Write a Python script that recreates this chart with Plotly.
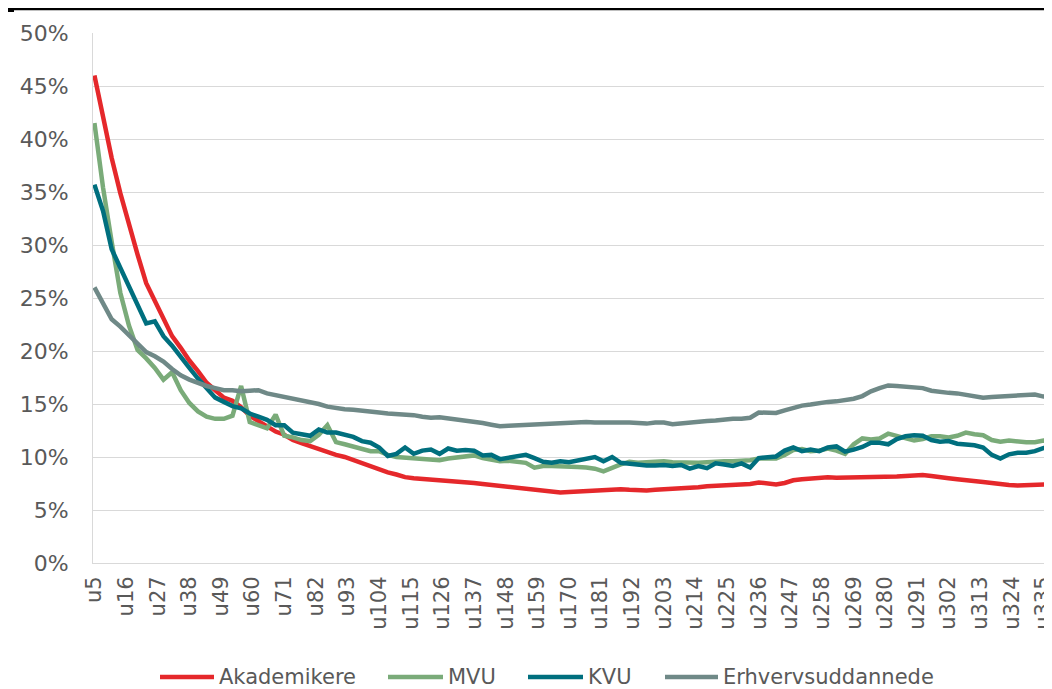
import plotly.graph_objects as go

# Week index of every sampled point (category "u<week>")
weeks = list(range(5, 339, 3))

akademikere = [
    46.0, 42.0, 38.2, 34.9, 31.8, 29.1, 26.4, 24.7, 23.0, 21.4,
    20.3, 19.1, 18.1, 17.0, 16.3, 15.6, 15.3, 14.7, 13.9, 13.4,
    12.8, 12.4, 12.1, 11.6, 11.3, 11.0, 10.8, 10.5, 10.2, 10.0,
    9.7, 9.4, 9.1, 8.8, 8.55, 8.35, 8.1, 8.0, 7.95, 7.9,
    7.85, 7.75, 7.7, 7.65, 7.55, 7.45, 7.35, 7.25, 7.2, 7.05,
    6.95, 6.9, 6.8, 6.75, 6.65, 6.7, 6.75, 6.8, 6.85, 6.9,
    6.95, 6.95, 6.9, 6.85, 6.85, 6.9, 6.95, 6.95, 6.95, 7.0,
    7.15, 7.25, 7.3, 7.35, 7.35, 7.35, 7.45, 7.6, 7.5, 7.4,
    7.55, 7.8, 7.9, 8.0, 8.1, 8.1, 8.05, 8.05, 8.05, 8.1,
    8.1, 8.05, 8.1, 8.15, 8.2, 8.25, 8.3, 8.2, 8.05, 8.0,
    7.9, 7.85, 7.75, 7.65, 7.55, 7.4, 7.35, 7.3, 7.35, 7.45,
    7.5, 7.45,
]

mvu = [
    41.5, 35.4, 30.3, 25.5, 22.4, 20.1, 19.3, 18.4, 17.3, 18.0,
    16.3, 15.1, 14.3, 13.8, 13.6, 13.6, 13.9, 16.7, 13.3, 13.0,
    12.7, 14.0, 12.0, 11.85, 11.6, 11.5, 12.1, 13.0, 11.4, 11.2,
    11.0, 10.8, 10.55, 10.55, 10.2, 10.0, 9.95, 9.9, 9.85, 9.7,
    9.7, 9.85, 9.95, 10.1, 10.15, 9.9, 9.7, 9.6, 9.65, 9.55,
    9.45, 9.0, 9.15, 9.15, 9.15, 9.15, 9.05, 9.0, 8.9, 8.65,
    9.0, 9.3, 9.55, 9.45, 9.5, 9.55, 9.6, 9.5, 9.45, 9.45,
    9.45, 9.5, 9.6, 9.6, 9.6, 9.6, 9.7, 9.85, 9.9, 9.85,
    10.2, 10.65, 10.75, 10.55, 10.6, 10.8, 10.6, 10.3, 11.2, 11.75,
    11.65, 11.75, 12.2, 12.0, 11.7, 11.55, 11.7, 11.95, 11.95, 11.85,
    12.0, 12.3, 12.15, 12.05, 11.6, 11.45, 11.55, 11.45, 11.4, 11.4,
    11.55, 11.45,
]

kvu = [
    35.7, 33.2, 29.6, 27.8, 26.0, 24.2, 22.6, 22.8, 21.4, 20.5,
    19.4, 18.4, 17.4, 16.5, 15.6, 15.2, 14.8, 14.6, 14.1, 13.8,
    13.5, 13.0, 13.0, 12.3, 12.1, 12.0, 12.6, 12.3, 12.3, 12.1,
    11.9, 11.5, 11.35, 10.9, 10.1, 10.3, 10.9, 10.3, 10.6, 10.7,
    10.3, 10.8, 10.6, 10.65, 10.6, 10.15, 10.2, 9.8, 9.95, 10.1,
    10.2, 9.9, 9.55, 9.45, 9.6, 9.5, 9.65, 9.75, 10.0, 9.6,
    10.0, 9.45, 9.35, 9.2, 9.2, 9.2, 9.25, 9.15, 9.25, 8.9,
    9.15, 8.95, 9.4, 9.3, 9.15, 9.4, 9.0, 9.9, 9.95, 10.05,
    10.6, 10.9, 10.55, 10.7, 10.55, 10.9, 11.0, 10.5, 10.7, 10.95,
    11.35, 11.35, 11.2, 11.7, 11.95, 12.05, 12.0, 11.6, 11.45, 11.5,
    11.25, 11.2, 11.1, 10.9, 10.2, 9.85, 10.25, 10.4, 10.4, 10.55,
    10.85, 10.7,
]

erhvervsuddannede = [
    26.0, 24.4, 23.0, 22.3, 21.5, 20.6, 19.9, 19.5, 19.0, 18.3,
    17.7, 17.3, 16.95, 16.7, 16.5, 16.3, 16.3, 16.2, 16.25, 16.3,
    16.0, 15.85, 15.7, 15.45, 15.35, 15.2, 15.0, 14.75, 14.6, 14.5,
    14.45, 14.4, 14.35, 14.2, 14.1, 14.05, 14.05, 13.95, 13.8, 13.7,
    13.75, 13.65, 13.6, 13.45, 13.3, 13.2, 13.05, 12.9, 12.95, 13.0,
    13.05, 13.1, 13.1, 13.1, 13.15, 13.2, 13.3, 13.3, 13.25, 13.25,
    13.3, 13.35, 13.25, 13.2, 13.15, 13.25, 13.25, 13.1, 13.2, 13.25,
    13.3, 13.4, 13.45, 13.55, 13.6, 13.6, 13.7, 14.2, 14.2, 14.15,
    14.4, 14.65, 14.85, 14.95, 15.1, 15.2, 15.25, 15.35, 15.5, 15.75,
    16.2, 16.5, 16.75, 16.7, 16.65, 16.6, 16.5, 16.25, 16.1, 16.05,
    16.0, 15.9, 15.75, 15.6, 15.65, 15.7, 15.75, 15.85, 15.9, 15.9,
    15.7, 15.8,
]

tick_weeks = [5, 16, 27, 38, 49, 60, 71, 82, 93, 104, 115, 126, 137, 148, 159,
              170, 181, 192, 203, 214, 225, 236, 247, 258, 269, 280, 291, 302,
              313, 324, 335]
tick_labels = ["u5", "u16", "u27", "u38", "u49", "u60", "u71", "u82", "u93",
               "u104", "u115", "u126", "u137", "u148", "u159", "u170", "u181",
               "u192", "u203", "u214", "u225", "u236", "u247", "u258", "u269",
               "u280", "u291", "u302", "u313", "u324", "u335"]

series_names = ["Akademikere", "MVU", "KVU", "Erhvervsuddannede"]
series_values = [akademikere, mvu, kvu, erhvervsuddannede]
series_colors = ["#e5282b", "#7aab79", "#006f7e", "#6f8987"]

FONT = "DejaVu Sans"
TXT = "#595959"

# The page body keeps its default 8px margin, so the figure is 8px smaller
OFF = 8
W, H = 1052 - OFF, 689 - OFF
ML, MT = 93 - OFF, 33 - OFF
MR = 0
PW, PH = W - ML - MR, 530
MB = H - MT - PH


def px(xpage):
    return (xpage - OFF - ML) / PW


def py(ypage):
    return (H - MB - (ypage - OFF)) / PH


fig = go.Figure()
for name, vals, col in zip(series_names, series_values, series_colors):
    fig.add_trace(go.Scatter(
        x=weeks, y=vals, name=name, mode="lines",
        line=dict(color=col, width=4.5),
        hoverinfo="skip", showlegend=False,
    ))

# Legend drawn like the original: long line samples followed by the name
legend_line_x = [(160, 214), (388, 443), (528, 583), (665, 718)]
legend_y = 677
shapes = []
annotations = []
for (x0, x1), name, col in zip(legend_line_x, series_names, series_colors):
    shapes.append(dict(type="line", xref="paper", yref="paper",
                       x0=px(x0), x1=px(x1), y0=py(legend_y), y1=py(legend_y),
                       line=dict(color=col, width=4.5)))
    annotations.append(dict(xref="paper", yref="paper", x=px(x1 + 3),
                            y=py(legend_y), xanchor="left", yanchor="middle",
                            text=name, showarrow=False,
                            font=dict(family=FONT, size=21, color=TXT)))

# Rule across the top of the figure
shapes.append(dict(type="line", xref="paper", yref="paper", x0=px(5), x1=px(1052),
                   y0=py(9), y1=py(9), line=dict(color="black", width=2.5)))
shapes.append(dict(type="rect", xref="paper", yref="paper", x0=px(5), x1=px(14),
                   y0=py(12), y1=py(9), line=dict(width=0), fillcolor="black"))

fig.update_layout(
    width=W, height=H,
    margin=dict(l=ML, r=MR, t=MT, b=MB),
    paper_bgcolor="white", plot_bgcolor="white",
    font=dict(family=FONT, size=21, color=TXT),
    showlegend=False,
    xaxis=dict(range=[4.5, 337.95], tickmode="array", tickvals=tick_weeks,
               ticktext=tick_labels, tickangle=-90, showgrid=False,
               zeroline=False, showline=True, linecolor="#d9d9d9",
               linewidth=1, ticks="", ticklabelstandoff=4, automargin=False,
               ticklabeloverflow="allow",
               tickfont=dict(family=FONT, size=21, color=TXT)),
    yaxis=dict(range=[0, 50], tickmode="linear", tick0=0, dtick=5,
               ticksuffix="%", showgrid=True, gridcolor="#d9d9d9",
               gridwidth=1, zeroline=False, showline=True,
               linecolor="#d9d9d9", linewidth=1, ticks="",
               ticklabelstandoff=19, automargin=False,
               tickfont=dict(family=FONT, size=22, color=TXT)),
    shapes=shapes,
    annotations=annotations,
)

fig.write_html("out.html")
